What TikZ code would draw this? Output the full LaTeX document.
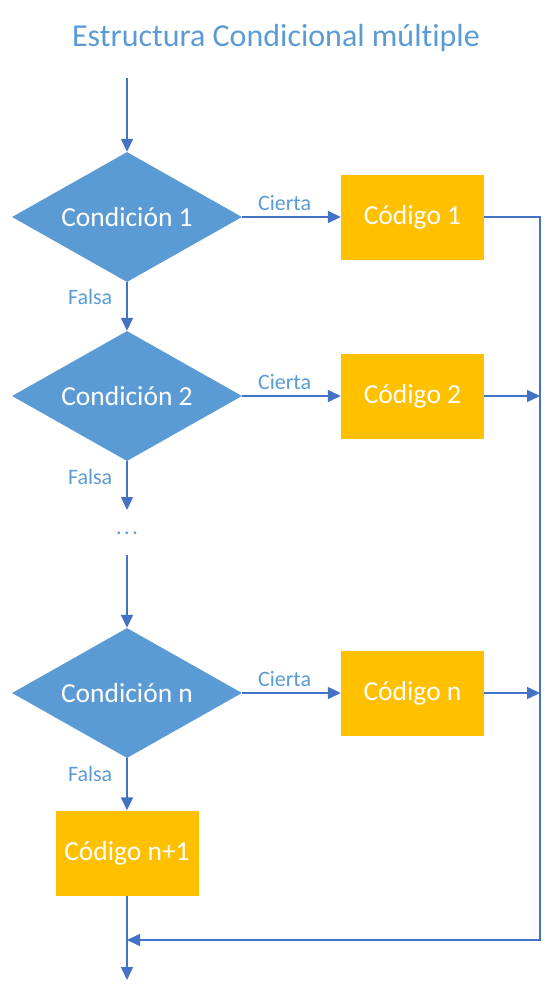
\documentclass[tikz,border=0pt]{standalone}
\usepackage{fontspec}
\setmainfont{Carlito}[Ligatures=NoCommon]
\usetikzlibrary{shapes.geometric,arrows.meta}
\definecolor{cblue}{HTML}{5B9BD5}
\definecolor{cline}{HTML}{4472C4}
\definecolor{cgold}{HTML}{FFC000}
\begin{document}
\begin{tikzpicture}[x=1pt,y=-1pt,
  cond/.style={diamond,fill=cblue,draw=none,minimum width=230pt,minimum height=130pt,aspect=1.77,inner sep=0pt,text=white,font=\fontsize{27.5}{32}\selectfont},
  codebox/.style={rectangle,fill=cgold,draw=none,minimum width=143pt,minimum height=85pt,inner sep=0pt,text=white,font=\fontsize{27.5}{32}\selectfont},
  lbl/.style={text=cblue,font=\fontsize{22}{26}\selectfont,inner sep=0pt},
  flow/.style={draw=cline,line width=1.5pt,-{Triangle[length=13pt,width=12pt]}},
  conn/.style={draw=cline,line width=1.5pt}]
\useasboundingbox (0,0) rectangle (551,991);
\node[text=cblue,font=\fontsize{32}{38}\selectfont] (title) at (276,38) {Estructura Condicional múltiple};
\coordinate (start) at (127,78);
\node[cond] (d1) at (127,217) {Condición 1};
\node[codebox] (c1) at (412.5,217) {Código 1};
\node[cond] (d2) at (127,396) {Condición 2};
\node[codebox] (c2) at (412.5,396) {Código 2};
\coordinate (f2) at (127,510);
\node[lbl] (dots) at (127,533) {.\hspace{2.5pt}.\hspace{2.5pt}.};
\coordinate (s3) at (127,555);
\node[cond] (dn) at (127,693) {Condición n};
\node[codebox] (cn) at (412.5,693) {Código n};
\node[codebox] (cn1) at (127,853) {Código n+1};
\coordinate (endpt) at (127,980);
\coordinate (r1) at (540,217);
\coordinate (r2) at (540,396);
\coordinate (rn) at (540,693);
\coordinate (rb) at (540,940);
\coordinate (mb) at (127,940);

\draw[flow] (start) -- (d1.north);
\draw[flow] (d1.east) -- node[lbl,above=6pt,pos=0.43]{Cierta} (c1.west);
\draw[flow] (d1.south) -- node[lbl,left=14pt,pos=0.3]{Falsa} (d2.north);
\draw[flow] (d2.east) -- node[lbl,above=6pt,pos=0.43]{Cierta} (c2.west);
\draw[flow] (d2.south) -- node[lbl,left=14pt,pos=0.33]{Falsa} (f2);
\draw[flow] (s3) -- (dn.north);
\draw[flow] (dn.east) -- node[lbl,above=6pt,pos=0.43]{Cierta} (cn.west);
\draw[flow] (dn.south) -- node[lbl,left=14pt,pos=0.3]{Falsa} (cn1.north);
\draw[flow] (cn1.south) -- (endpt);
\draw[flow] (c1.east) -- (r1) -- (rb) -- (mb);
\draw[flow] (c2.east) -- (r2);
\draw[flow] (cn.east) -- (rn);
\end{tikzpicture}
\end{document}
